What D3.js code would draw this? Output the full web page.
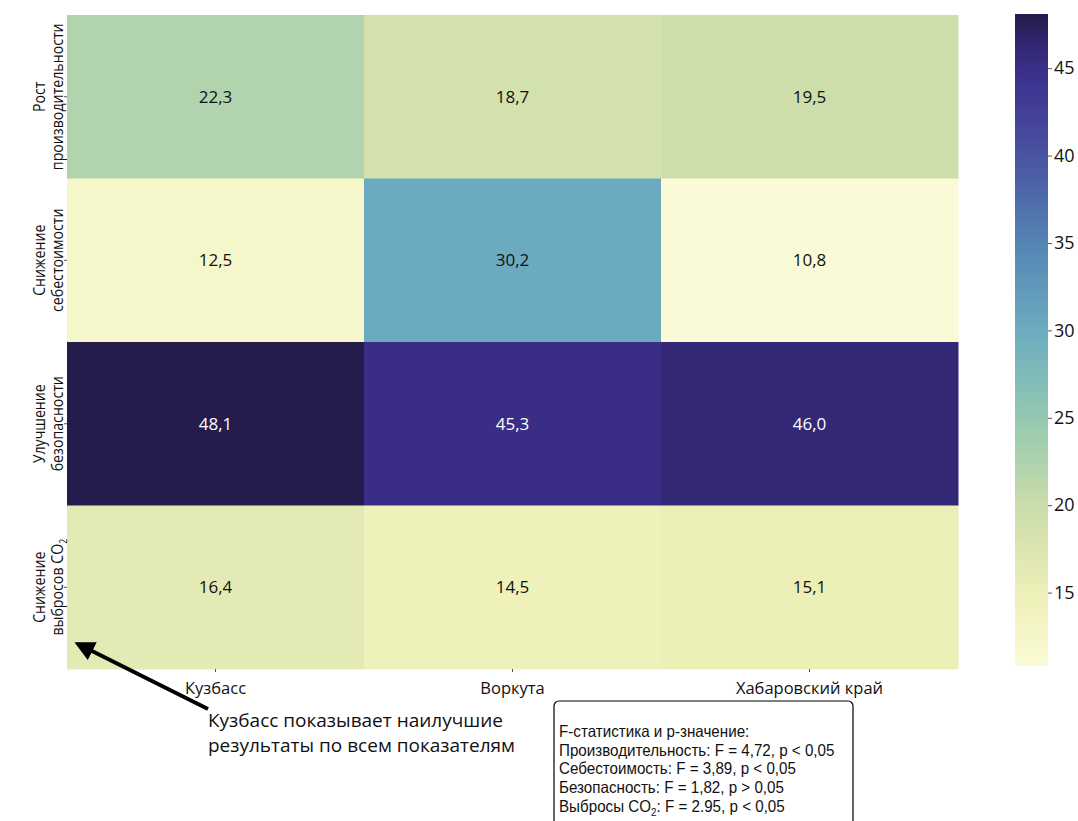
<!DOCTYPE html>
<html>
<head>
<meta charset="utf-8">
<script src="https://cdn.jsdelivr.net/npm/d3@7"></script>
<style>
  html, body { margin: 0; padding: 0; background: #fff; }
  svg { display: block; }
  .cond { font-family: "Open Sans", "Noto Sans", sans-serif; }
  .box { font-family: "Liberation Sans", Arial, sans-serif; }
  .reg { font-family: "Open Sans", "Noto Sans", sans-serif; }
</style>
</head>
<body>
<svg id="chart" width="1078" height="821"></svg>
<script>
// Regions (columns) and indicators (rows)
const regions = ["Кузбасс", "Воркута", "Хабаровский край"];
const indicators = [
  ["Рост", "производительности"],
  ["Снижение", "себестоимости"],
  ["Улучшение", "безопасности"],
  ["Снижение", "выбросов CO|2"]
];
// Effect values, one row per indicator, in region order
const rowGrowth = [22.3, 18.7, 19.5];
const rowCost = [12.5, 30.2, 10.8];
const rowSafety = [48.1, 45.3, 46.0];
const rowCO2 = [16.4, 14.5, 15.1];
const valueRows = [rowGrowth, rowCost, rowSafety, rowCO2];

const colorTicks = [15, 20, 25, 30, 35, 40, 45];
const statsLines = [
  "F-статистика и p-значение:",
  "Производительность: F = 4,72, p < 0,05",
  "Себестоимость: F = 3,89, p < 0,05",
  "Безопасность: F = 1,82, p > 0,05",
  "Выбросы CO|2: F = 2.95, p < 0,05"
];
const noteLines = ["Кузбасс показывает наилучшие", "результаты по всем показателям"];

const svg = d3.select("#chart");
const fmt = v => d3.format(".1f")(v).replace(".", ",");

const cells = [];
valueRows.forEach((row, r) => row.forEach((v, c) => cells.push({r, c, v})));
const allVals = cells.map(d => d.v);
const vMin = d3.min(allVals), vMax = d3.max(allVals);

// Yellow–green–blue–purple ramp
const color = d3.scaleLinear()
  .domain([vMin, 15, 20, 25, 30, 35, 40, 45, vMax])
  .range(["#fafad6", "#eef0b6", "#cadcaa", "#93c8b1", "#6cacc0", "#5484b3", "#4a52a2", "#3b2f8c", "#241c4c"])
  .interpolate(d3.interpolateRgb);

const plot = {left: 67, right: 958, top: 15, bottom: 669};
const x = d3.scaleBand().domain(d3.range(regions.length)).range([plot.left, plot.right]);
const y = d3.scaleBand().domain(d3.range(indicators.length)).range([plot.top, plot.bottom]);

// Heatmap cells
svg.append("g").selectAll("rect").data(cells).join("rect")
  .attr("x", d => x(d.c)).attr("y", d => y(d.r))
  .attr("width", x.bandwidth() + 0.5).attr("height", y.bandwidth() + 0.5)
  .attr("fill", d => color(d.v));

svg.append("g").selectAll("text").data(cells).join("text")
  .attr("class", "reg")
  .attr("x", d => x(d.c) + x.bandwidth() / 2)
  .attr("y", d => y(d.r) + y.bandwidth() / 2)
  .attr("dy", "0.35em")
  .attr("text-anchor", "middle")
  .attr("font-size", 17)
  .attr("fill", d => d.v > 40 ? "#ffffff" : "#111111")
  .text(d => fmt(d.v));

// Helper: write text where "|" marks a subscript character
function richText(sel, str) {
  const parts = str.split("|");
  sel.append("tspan").text(parts[0]);
  if (parts.length > 1) {
    sel.append("tspan").attr("dy", 4).attr("font-size", "0.65em").text(parts[1].charAt(0));
    sel.append("tspan").attr("dy", -4).text(parts[1].slice(1));
  }
}

// Y axis: ticks and rotated, narrowed two-line labels
const yAxis = svg.append("g");
indicators.forEach((lines, i) => {
  const cy = y(i) + y.bandwidth() / 2;
  yAxis.append("line").attr("x1", plot.left - 3).attr("x2", plot.left).attr("y1", cy).attr("y2", cy)
    .attr("stroke", "#555").attr("stroke-width", 1);
  const t = yAxis.append("text").attr("class", "cond")
    .attr("transform", `translate(55,${cy}) rotate(-90) scale(0.86,1)`)
    .attr("text-anchor", "middle").attr("font-size", 16.5).attr("fill", "#111");
  lines.forEach((ln, k) => {
    const tl = t.append("tspan").attr("x", 0).attr("y", k === 0 ? -10 : 8);
    const parts = ln.split("|");
    tl.text(parts[0]);
    if (parts.length > 1) {
      t.append("tspan").attr("dy", 4).attr("font-size", 10).text(parts[1]);
    }
  });
});

// X axis labels
const xAxis = svg.append("g");
regions.forEach((name, i) => {
  const cx = x(i) + x.bandwidth() / 2;
  xAxis.append("line").attr("x1", cx).attr("x2", cx).attr("y1", plot.bottom).attr("y2", plot.bottom + 3)
    .attr("stroke", "#555");
  xAxis.append("text").attr("class", "reg")
    .attr("x", cx).attr("y", plot.bottom + 25)
    .attr("text-anchor", "middle").attr("font-size", 16.5).attr("fill", "#111")
    .text(name);
});

// Colour bar
const cb = {x: 1015, w: 33, top: 14, bottom: 666};
const cbScale = d3.scaleLinear().domain([vMin, vMax]).range([cb.bottom, cb.top]);
const defs = svg.append("defs");
const grad = defs.append("linearGradient").attr("id", "cbGrad")
  .attr("x1", 0).attr("y1", 1).attr("x2", 0).attr("y2", 0);
d3.range(0, 1.0001, 0.05).forEach(t => {
  const v = vMin + t * (vMax - vMin);
  grad.append("stop").attr("offset", t).attr("stop-color", color(v));
});
svg.append("rect").attr("x", cb.x).attr("y", cb.top).attr("width", cb.w).attr("height", cb.bottom - cb.top)
  .attr("fill", "url(#cbGrad)");
const cbAxis = d3.axisRight(cbScale).tickValues(colorTicks).tickSize(4).tickPadding(2);
svg.append("g").attr("transform", `translate(${cb.x + cb.w},0)`).call(cbAxis)
  .call(g => g.select(".domain").remove())
  .call(g => g.selectAll("line").attr("stroke", "#555"))
  .call(g => g.selectAll("text").attr("class", "reg").attr("font-size", 18).attr("fill", "#111"));

// Annotation arrow
defs.append("marker").attr("id", "arrowHead").attr("viewBox", "0 0 10 10")
  .attr("refX", 8).attr("refY", 5).attr("markerWidth", 5).attr("markerHeight", 5)
  .attr("orient", "auto")
  .append("path").attr("d", "M0,0 L10,5 L0,10 Z").attr("fill", "#000");
svg.append("line").attr("x1", 208).attr("y1", 709).attr("x2", 78).attr("y2", 644)
  .attr("stroke", "#000").attr("stroke-width", 4).attr("marker-end", "url(#arrowHead)");

svg.append("g").selectAll("text").data(noteLines).join("text")
  .attr("class", "reg").attr("x", 208).attr("y", (d, i) => 727 + i * 25)
  .attr("font-size", 19).attr("fill", "#111").text(d => d);

// Statistics box
const box = svg.append("g");
box.append("rect").attr("x", 554).attr("y", 701).attr("width", 299).attr("height", 135)
  .attr("rx", 5).attr("fill", "#fff").attr("stroke", "#000").attr("stroke-width", 1.2);
statsLines.forEach((ln, i) => {
  const t = box.append("text").attr("class", "box")
    .attr("transform", `translate(559,${737 + i * 18.7}) scale(0.92,1)`)
    .attr("font-size", 16.5).attr("fill", "#111");
  richText(t, ln);
});
</script>
</body>
</html>
